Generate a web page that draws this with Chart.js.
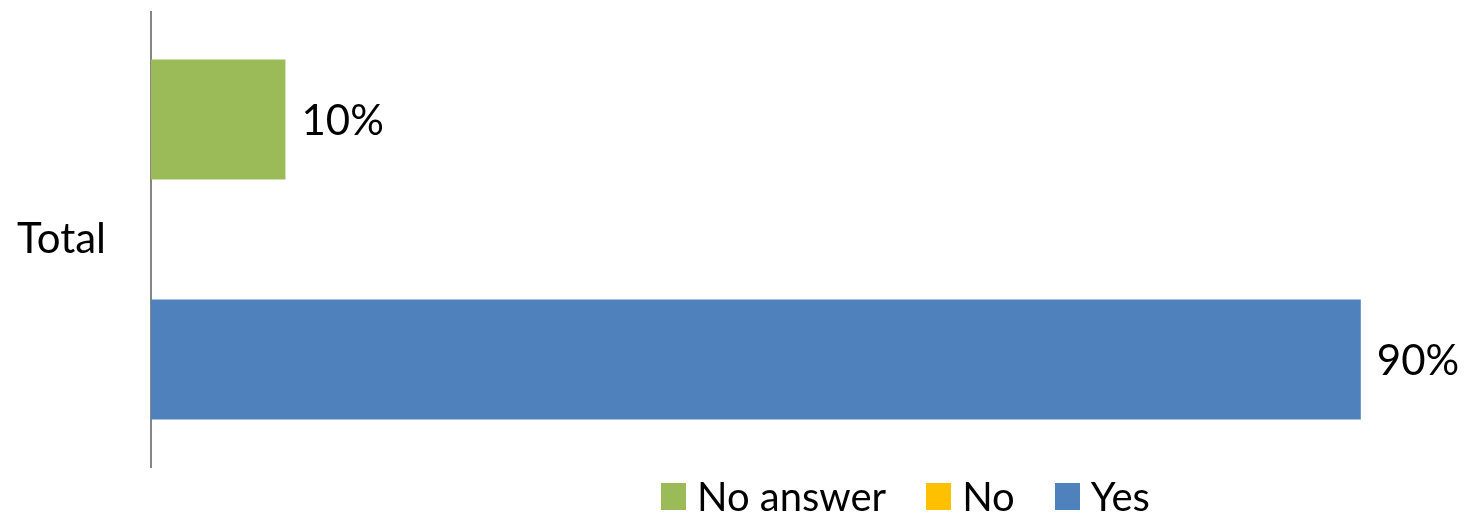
<!DOCTYPE html>
<html>
<head>
<meta charset="utf-8">
<script src="https://cdn.jsdelivr.net/npm/chart.js@4/dist/chart.umd.min.js"></script>
<style>
  html, body { margin: 0; padding: 0; background: #fff; }
  #wrap { position: relative; width: 1467px; height: 516px; }
  #legend { position: absolute; left: 661px; top: 478px; display: flex; align-items: center;
            font-family: Lato, "Open Sans", sans-serif; font-size: 40px; color: #000; line-height: 36px; }
  .item { display: flex; align-items: center; margin-right: 40px; }
  .box { width: 25px; height: 27px; margin-right: 11px; }
</style>
</head>
<body>
<div id="wrap">
  <canvas id="c" width="1467" height="516"></canvas>
  <div id="legend"></div>
</div>
<script>
const categories = ["Total"];
const seriesNames = ["No answer", "No", "Yes"];
const noAnswerValues = [10];
const noValues = [0];
const yesValues = [90];
const seriesColors = ["#9BBB59", "#FFC000", "#4F81BD"];

const FONT = 'Lato, "Open Sans", sans-serif';

const valueLabels = {
  id: 'valueLabels',
  afterDatasetsDraw(chart) {
    const ctx = chart.ctx;
    ctx.save();
    ctx.font = '42px ' + FONT;
    ctx.fillStyle = '#000';
    ctx.textAlign = 'left';
    ctx.textBaseline = 'middle';
    chart.data.datasets.forEach((ds, i) => {
      const meta = chart.getDatasetMeta(i);
      meta.data.forEach((el, j) => {
        const v = ds.data[j];
        if (!v) return;
        ctx.fillText(v + '%', el.x + 16, el.y + 2);
      });
    });
    ctx.restore();
  }
};

const chart = new Chart(document.getElementById('c'), {
  type: 'bar',
  data: {
    labels: categories,
    datasets: [
      { label: seriesNames[0], data: noAnswerValues, backgroundColor: seriesColors[0] },
      { label: seriesNames[1], data: noValues, backgroundColor: seriesColors[1] },
      { label: seriesNames[2], data: yesValues, backgroundColor: seriesColors[2] }
    ]
  },
  options: {
    indexAxis: 'y',
    responsive: false,
    animation: false,
    devicePixelRatio: 1,
    layout: { padding: { top: 12, bottom: 49, right: 39, left: 0 } },
    datasets: { bar: { categoryPercentage: 0.791, barPercentage: 1.0 } },
    plugins: { legend: { display: false }, tooltip: { enabled: false } },
    scales: {
      x: { display: false, min: 0, max: 95 },
      y: {
        grid: { display: false, drawTicks: false },
        border: { display: true, color: '#868686', width: 2 },
        ticks: { padding: 45, color: '#000', font: { family: FONT, size: 42 } },
        afterFit(scale) { scale.width = 151; scale.paddingTop = 0; scale.paddingBottom = 0; }
      }
    }
  },
  plugins: [valueLabels]
});

const legend = document.getElementById('legend');
chart.data.datasets.forEach(ds => {
  const item = document.createElement('div');
  item.className = 'item';
  const box = document.createElement('div');
  box.className = 'box';
  box.style.background = ds.backgroundColor;
  const txt = document.createElement('span');
  txt.textContent = ds.label;
  item.appendChild(box);
  item.appendChild(txt);
  legend.appendChild(item);
});
</script>
</body>
</html>
